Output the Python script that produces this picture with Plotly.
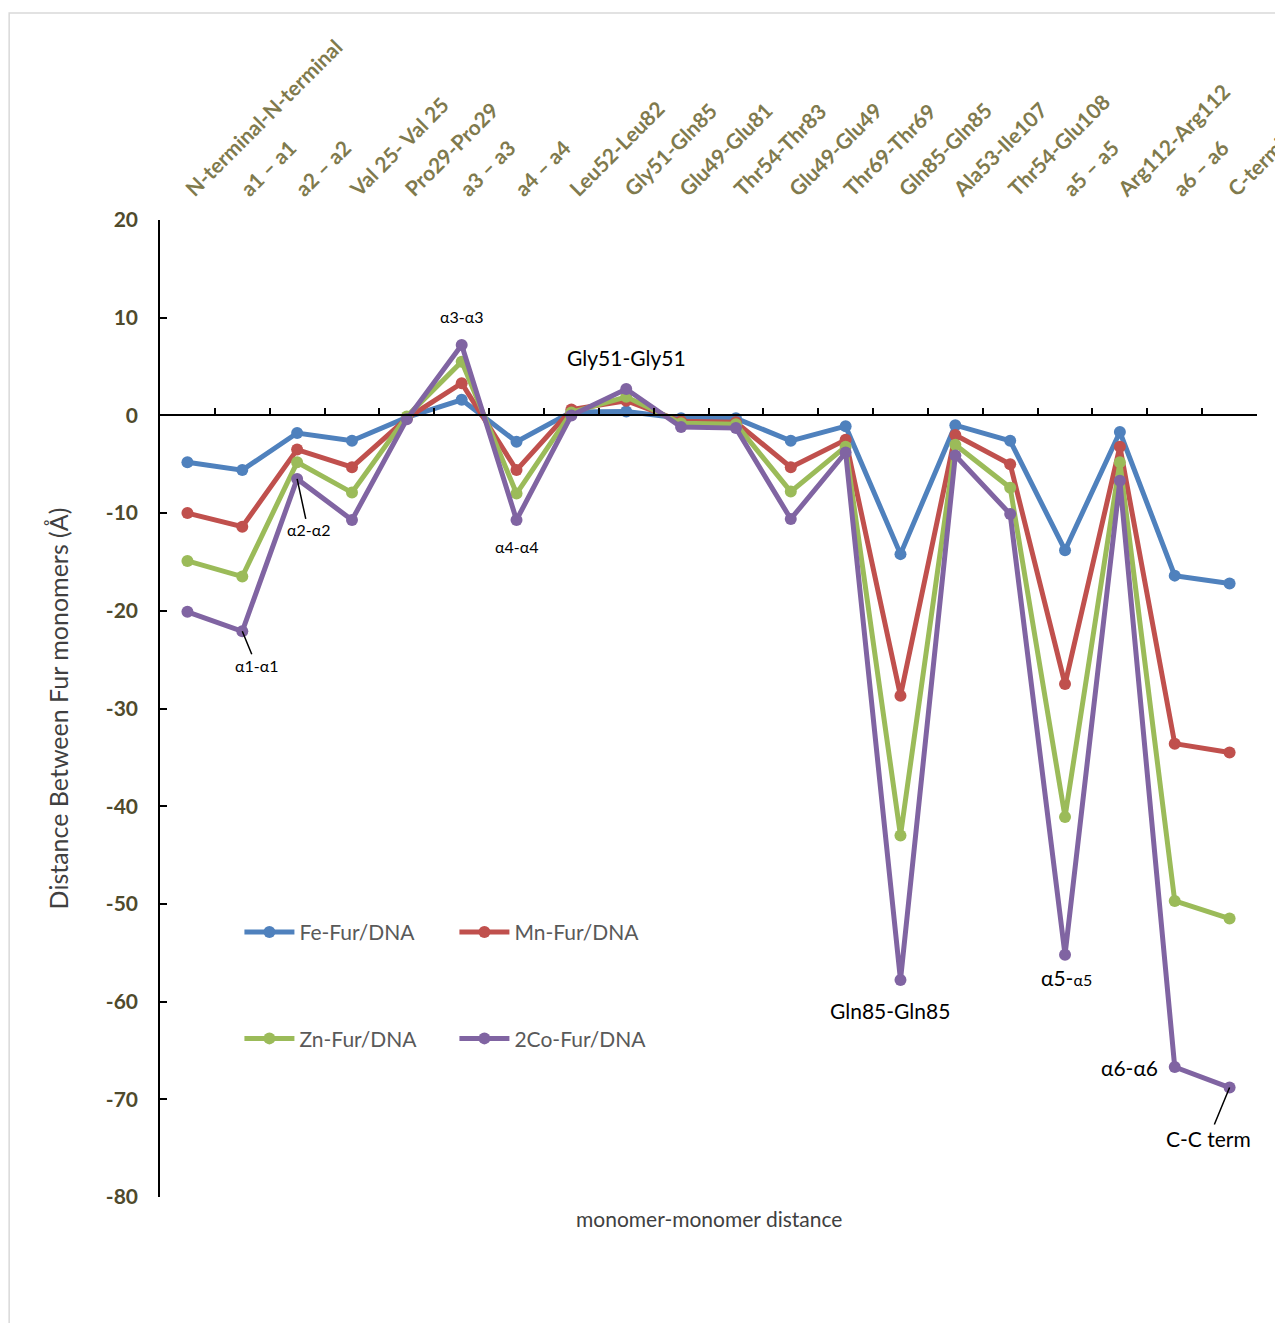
import plotly.graph_objects as go

categories = ["N-terminal-N-terminal", "a1 – a1", "a2 – a2", "Val 25- Val 25", "Pro29-Pro29",
              "a3 – a3", "a4 – a4", "Leu52-Leu82", "Gly51-Gln85", "Glu49-Glu81",
              "Thr54-Thr83", "Glu49-Glu49", "Thr69-Thr69", "Gln85-Gln85", "Ala53-Ile107",
              "Thr54-Glu108", "a5 – a5", "Arg112-Arg112", "a6 – a6", "C-terminal-C-terminal"]

fe = [-4.8, -5.6, -1.8, -2.6, -0.2, 1.6, -2.7, 0.35, 0.4, -0.3,
      -0.3, -2.6, -1.1, -14.2, -1.0, -2.6, -13.8, -1.7, -16.4, -17.2]
mn = [-10.0, -11.4, -3.5, -5.3, -0.3, 3.3, -5.6, 0.6, 1.5, -0.6,
      -0.7, -5.3, -2.5, -28.7, -2.0, -5.0, -27.5, -3.2, -33.6, -34.5]
zn = [-14.9, -16.5, -4.8, -7.9, -0.1, 5.5, -8.0, 0.3, 1.9, -0.8,
      -0.9, -7.8, -3.2, -43.0, -3.0, -7.4, -41.1, -4.8, -49.7, -51.5]
co = [-20.1, -22.1, -6.5, -10.7, -0.4, 7.2, -10.7, 0.0, 2.7, -1.2,
      -1.3, -10.6, -3.8, -57.8, -4.1, -10.1, -55.2, -6.7, -66.7, -68.8]

y_ticks = [20, 10, 0, -10, -20, -30, -40, -50, -60, -70, -80]
y_tick_text = [str(v) for v in y_ticks]

series = [("Fe-Fur/DNA", fe, "#4f81bd", "legend"),
          ("Mn-Fur/DNA", mn, "#c0504d", "legend"),
          ("Zn-Fur/DNA", zn, "#9bbb59", "legend2"),
          ("2Co-Fur/DNA", co, "#8064a2", "legend2")]

FONT = "Lato, 'Liberation Sans', sans-serif"

fig = go.Figure()
for name, vals, col, lg in series:
    fig.add_trace(go.Scatter(x=categories, y=vals, name=name, mode="lines+markers",
                             line=dict(color=col, width=5),
                             marker=dict(color=col, size=12),
                             legend=lg))

# invisible trace to carry the zero-crossing category axis
fig.add_trace(go.Scatter(x=categories, y=fe, xaxis="x2", mode="lines",
                         line=dict(width=0), opacity=0, showlegend=False, hoverinfo="skip"))

legend_common = dict(orientation="h", xanchor="left", yanchor="middle",
                     itemwidth=50, entrywidth=150, entrywidthmode="pixels",
                     bgcolor="rgba(0,0,0,0)", font=dict(size=21, color="#595959"))

fig.update_layout(
    width=1283, height=1323,
    margin=dict(l=152, r=34, t=212, b=134),
    paper_bgcolor="white", plot_bgcolor="white",
    font=dict(family=FONT),
    xaxis=dict(type="category", side="top", range=[-0.5, 19.5], automargin=False,
               showline=False, showgrid=False, zeroline=False, ticks="",
               tickangle=-45, ticklabelstandoff=14,
               tickfont=dict(size=21, color="#7f7a4d", weight="bold")),
    xaxis2=dict(type="category", overlaying="x", matches="x", anchor="free", position=0.8,
                side="bottom", showline=True, linecolor="black", linewidth=1.5,
                ticks="inside", ticklen=7, tickcolor="black", tickwidth=1.5, automargin=False,
                tickson="boundaries", showticklabels=False, showgrid=False, zeroline=False),
    yaxis=dict(range=[-80, 20], tickmode="array", tickvals=y_ticks, ticktext=y_tick_text,
               showgrid=False, zeroline=False, automargin=False,
               showline=True, linecolor="black", linewidth=1.5,
               ticks="inside", ticklen=7, tickcolor="black", tickwidth=1.5,
               ticklabelstandoff=16,
               tickfont=dict(size=21, color="#4f4a2c", weight="bold"),
               title=dict(text="Distance Between Fur monomers (Å)", standoff=30,
                          font=dict(size=25, color="#404040"))),
    legend=dict(x=0.0724, y=0.271, **legend_common),
    legend2=dict(x=0.0724, y=0.162, **legend_common),
    showlegend=True,
)

fig.add_annotation(text="monomer-monomer distance", xref="paper", yref="paper",
                   x=0.5, y=-0.007, yanchor="top", showarrow=False,
                   font=dict(size=21, color="#404040"))

ann_font = dict(color="black", family=FONT)
fig.add_annotation(x="a3 – a3", y=10.1, text="α3-α3", showarrow=False,
                   font=dict(size=16, **ann_font))
fig.add_annotation(x="Gly51-Gln85", y=5.9, text="Gly51-Gly51", showarrow=False,
                   font=dict(size=21, **ann_font))
fig.add_annotation(x="a4 – a4", y=-13.4, text="α4-α4", showarrow=False,
                   font=dict(size=16, **ann_font))
fig.add_annotation(x="a2 – a2", y=co[2], text="α2-α2", showarrow=True, arrowhead=0,
                   arrowwidth=1.5, arrowcolor="black", ax=11, ay=51,
                   font=dict(size=16, **ann_font))
fig.add_annotation(x="a1 – a1", y=co[1], text="α1-α1", showarrow=True, arrowhead=0,
                   arrowwidth=1.5, arrowcolor="black", ax=14, ay=34,
                   font=dict(size=16, **ann_font))
fig.add_annotation(x="Gln85-Gln85", y=-60.9, xshift=-10, text="Gln85-Gln85", showarrow=False,
                   font=dict(size=21, **ann_font))
fig.add_annotation(x="a5 – a5", y=-57.5, xshift=1,
                   text="α5-<span style='font-size:16px'>α5</span>", showarrow=False,
                   font=dict(size=21, **ann_font))
fig.add_annotation(x="a6 – a6", y=co[18], xanchor="right", xshift=-15, text="α6-α6",
                   showarrow=False, font=dict(size=21, **ann_font))
fig.add_annotation(x=categories[19], y=co[19], text="C-C term", showarrow=True, arrowhead=0,
                   arrowwidth=1.5, arrowcolor="black", ax=-21, ay=51,
                   font=dict(size=21, **ann_font))

# light grey outer chart border
fig.add_shape(type="rect", xref="paper", yref="paper",
              x0=-0.1375, x1=1.03, y0=-0.14, y1=1.2119,
              line=dict(color="#d9d9d9", width=1.5), layer="below")

fig.write_html("out.html")
